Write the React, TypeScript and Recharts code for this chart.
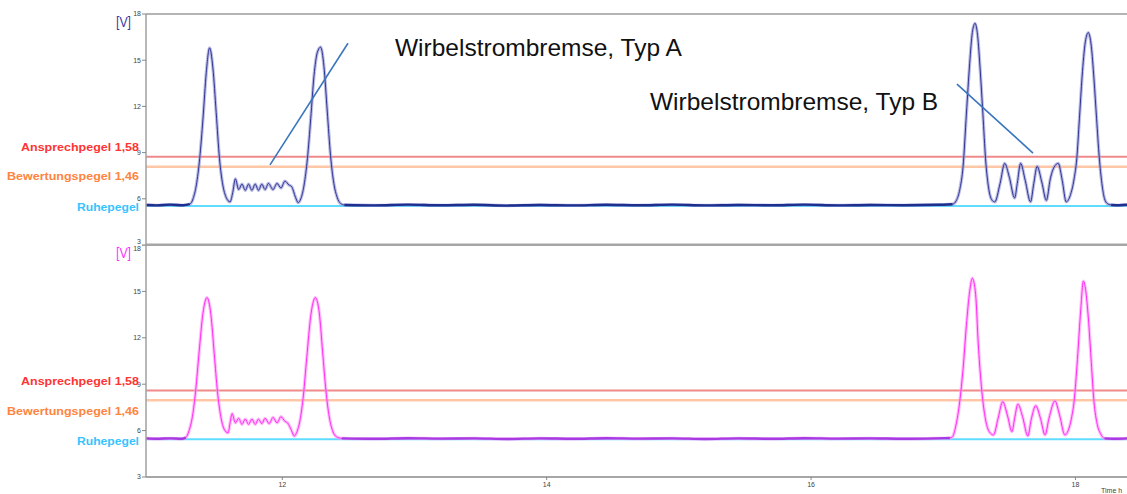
import React from 'react'
import { LineChart, Line, XAxis, YAxis, ReferenceLine } from 'recharts'

// signal of the upper sensor (time in h, voltage in V)
const upperTrace = [
  { t: 10.97, v: 5.6 }, { t: 11.05, v: 5.57 }, { t: 11.15, v: 5.62 }, { t: 11.25, v: 5.58 }, { t: 11.3, v: 5.65 },
  { t: 11.325, v: 6.0 }, { t: 11.35, v: 6.9 }, { t: 11.375, v: 8.6 }, { t: 11.4, v: 11.2 }, { t: 11.425, v: 14.2 },
  { t: 11.45, v: 15.8 }, { t: 11.475, v: 14.5 }, { t: 11.5, v: 11.6 }, { t: 11.525, v: 8.6 }, { t: 11.55, v: 6.9 },
  { t: 11.575, v: 6.1 }, { t: 11.605, v: 5.8 },
  { t: 11.625, v: 6.4 }, { t: 11.645, v: 7.3 }, { t: 11.67, v: 6.6 }, { t: 11.695, v: 6.95 }, { t: 11.72, v: 6.55 },
  { t: 11.745, v: 6.95 }, { t: 11.77, v: 6.55 }, { t: 11.795, v: 6.95 }, { t: 11.82, v: 6.55 }, { t: 11.845, v: 6.95 },
  { t: 11.87, v: 6.6 }, { t: 11.895, v: 7.0 }, { t: 11.93, v: 6.6 }, { t: 11.96, v: 7.0 }, { t: 11.99, v: 6.7 },
  { t: 12.02, v: 7.15 }, { t: 12.05, v: 6.9 }, { t: 12.07, v: 6.8 }, { t: 12.1, v: 6.1 }, { t: 12.12, v: 5.75 },
  { t: 12.14, v: 6.0 }, { t: 12.165, v: 6.9 }, { t: 12.19, v: 8.6 }, { t: 12.215, v: 11.2 }, { t: 12.24, v: 14.0 },
  { t: 12.265, v: 15.5 }, { t: 12.29, v: 15.85 }, { t: 12.315, v: 14.6 }, { t: 12.34, v: 11.7 }, { t: 12.365, v: 8.8 },
  { t: 12.39, v: 7.0 }, { t: 12.415, v: 6.1 }, { t: 12.44, v: 5.7 }, { t: 12.47, v: 5.6 },
  { t: 12.7, v: 5.57 }, { t: 12.95, v: 5.62 }, { t: 13.2, v: 5.58 }, { t: 13.45, v: 5.61 }, { t: 13.7, v: 5.56 },
  { t: 13.95, v: 5.6 }, { t: 14.2, v: 5.57 }, { t: 14.45, v: 5.61 }, { t: 14.7, v: 5.58 }, { t: 14.95, v: 5.62 },
  { t: 15.2, v: 5.57 }, { t: 15.45, v: 5.6 }, { t: 15.7, v: 5.58 }, { t: 15.95, v: 5.62 }, { t: 16.2, v: 5.57 },
  { t: 16.45, v: 5.6 }, { t: 16.7, v: 5.58 }, { t: 16.95, v: 5.61 }, { t: 17.07, v: 5.65 },
  { t: 17.1, v: 5.9 }, { t: 17.125, v: 6.6 }, { t: 17.15, v: 8.1 }, { t: 17.175, v: 11.5 }, { t: 17.2, v: 14.8 },
  { t: 17.22, v: 16.8 }, { t: 17.24, v: 17.4 }, { t: 17.26, v: 16.6 }, { t: 17.28, v: 14.3 }, { t: 17.3, v: 11.5 },
  { t: 17.32, v: 8.6 }, { t: 17.345, v: 6.6 }, { t: 17.37, v: 5.9 }, { t: 17.39, v: 5.8 },
  { t: 17.43, v: 7.0 }, { t: 17.465, v: 8.3 }, { t: 17.5, v: 7.4 }, { t: 17.54, v: 6.05 }, { t: 17.56, v: 7.0 },
  { t: 17.585, v: 8.3 }, { t: 17.62, v: 7.2 }, { t: 17.66, v: 5.8 }, { t: 17.685, v: 7.0 }, { t: 17.71, v: 8.1 },
  { t: 17.745, v: 7.1 }, { t: 17.78, v: 5.9 }, { t: 17.81, v: 7.3 }, { t: 17.83, v: 7.9 }, { t: 17.87, v: 8.3 },
  { t: 17.9, v: 7.2 }, { t: 17.93, v: 5.8 },
  { t: 17.96, v: 6.2 }, { t: 17.99, v: 7.3 }, { t: 18.01, v: 8.6 }, { t: 18.03, v: 11.2 }, { t: 18.05, v: 13.9 },
  { t: 18.075, v: 16.2 }, { t: 18.097, v: 16.8 }, { t: 18.12, v: 15.9 }, { t: 18.14, v: 13.8 }, { t: 18.16, v: 11.2 },
  { t: 18.18, v: 8.7 }, { t: 18.2, v: 7.0 }, { t: 18.22, v: 6.0 }, { t: 18.24, v: 5.7 }, { t: 18.27, v: 5.6 },
  { t: 18.33, v: 5.58 }, { t: 18.39, v: 5.61 },
]

// signal of the lower sensor
const lowerTrace = [
  { t: 10.97, v: 5.5 }, { t: 11.05, v: 5.47 }, { t: 11.15, v: 5.5 }, { t: 11.24, v: 5.47 }, { t: 11.27, v: 5.55 },
  { t: 11.295, v: 6.0 }, { t: 11.32, v: 6.9 }, { t: 11.345, v: 8.6 }, { t: 11.37, v: 11.0 }, { t: 11.4, v: 13.6 },
  { t: 11.43, v: 14.6 }, { t: 11.46, v: 13.5 }, { t: 11.485, v: 11.0 }, { t: 11.51, v: 8.5 }, { t: 11.535, v: 6.9 },
  { t: 11.56, v: 6.1 }, { t: 11.59, v: 5.85 },
  { t: 11.605, v: 6.5 }, { t: 11.62, v: 7.1 }, { t: 11.645, v: 6.5 }, { t: 11.67, v: 6.8 }, { t: 11.695, v: 6.4 },
  { t: 11.72, v: 6.75 }, { t: 11.745, v: 6.4 }, { t: 11.77, v: 6.75 }, { t: 11.795, v: 6.4 }, { t: 11.82, v: 6.75 },
  { t: 11.845, v: 6.45 }, { t: 11.87, v: 6.8 }, { t: 11.9, v: 6.45 }, { t: 11.93, v: 6.85 }, { t: 11.96, v: 6.5 },
  { t: 11.99, v: 6.9 }, { t: 12.02, v: 6.6 }, { t: 12.04, v: 6.5 }, { t: 12.07, v: 6.0 }, { t: 12.09, v: 5.65 },
  { t: 12.11, v: 5.9 }, { t: 12.135, v: 6.7 }, { t: 12.16, v: 8.3 }, { t: 12.185, v: 10.7 }, { t: 12.215, v: 13.4 },
  { t: 12.25, v: 14.6 }, { t: 12.28, v: 13.6 }, { t: 12.305, v: 11.1 }, { t: 12.33, v: 8.6 }, { t: 12.355, v: 6.9 },
  { t: 12.38, v: 6.0 }, { t: 12.41, v: 5.6 }, { t: 12.45, v: 5.5 },
  { t: 12.7, v: 5.47 }, { t: 12.95, v: 5.51 }, { t: 13.2, v: 5.48 }, { t: 13.45, v: 5.5 }, { t: 13.7, v: 5.46 },
  { t: 13.95, v: 5.5 }, { t: 14.2, v: 5.47 }, { t: 14.45, v: 5.51 }, { t: 14.7, v: 5.48 }, { t: 14.95, v: 5.5 },
  { t: 15.2, v: 5.46 }, { t: 15.45, v: 5.5 }, { t: 15.7, v: 5.47 }, { t: 15.95, v: 5.51 }, { t: 16.2, v: 5.48 },
  { t: 16.45, v: 5.5 }, { t: 16.7, v: 5.47 }, { t: 16.95, v: 5.5 }, { t: 17.05, v: 5.52 },
  { t: 17.07, v: 5.6 }, { t: 17.095, v: 6.3 }, { t: 17.125, v: 7.9 }, { t: 17.15, v: 10.0 }, { t: 17.175, v: 12.8 },
  { t: 17.2, v: 15.0 }, { t: 17.22, v: 15.85 }, { t: 17.245, v: 14.8 }, { t: 17.265, v: 11.6 }, { t: 17.285, v: 9.2 },
  { t: 17.3, v: 7.9 }, { t: 17.325, v: 6.5 }, { t: 17.35, v: 5.9 }, { t: 17.38, v: 5.72 },
  { t: 17.415, v: 6.8 }, { t: 17.45, v: 7.87 }, { t: 17.485, v: 7.0 }, { t: 17.52, v: 5.93 }, { t: 17.54, v: 6.8 },
  { t: 17.565, v: 7.72 }, { t: 17.6, v: 6.9 }, { t: 17.64, v: 5.65 }, { t: 17.665, v: 6.7 }, { t: 17.7, v: 7.61 },
  { t: 17.735, v: 6.8 }, { t: 17.77, v: 5.72 }, { t: 17.8, v: 6.8 }, { t: 17.845, v: 7.92 }, { t: 17.88, v: 7.0 },
  { t: 17.92, v: 5.72 },
  { t: 17.945, v: 6.0 }, { t: 17.97, v: 6.8 }, { t: 17.99, v: 7.9 }, { t: 18.015, v: 10.6 }, { t: 18.04, v: 13.8 },
  { t: 18.06, v: 15.67 }, { t: 18.08, v: 14.9 }, { t: 18.1, v: 13.0 }, { t: 18.12, v: 10.4 }, { t: 18.14, v: 7.9 },
  { t: 18.165, v: 6.4 }, { t: 18.19, v: 5.8 }, { t: 18.22, v: 5.5 }, { t: 18.3, v: 5.47 }, { t: 18.39, v: 5.5 },
]

// threshold levels [V]: Ansprechpegel, Bewertungspegel, Ruhepegel
const upperLevels = [8.73, 8.08, 5.53]
const lowerLevels = [8.59, 7.97, 5.44]
const levelNames = ['Ansprechpegel 1,58', 'Bewertungspegel 1,46', 'Ruhepegel']

const yTicks = [3, 6, 9, 12, 15, 18]
const xTicks = [12, 14, 16, 18]
const timeDomain = [10.969, 18.39]

// pointer lines of the two annotations (time, voltage)
const pointerA = [{ x: 12.497, y: 16.1 }, { x: 11.907, y: 8.2 }]
const pointerB = [{ x: 17.104, y: 13.45 }, { x: 17.679, y: 8.97 }]

const FONT = '"Liberation Sans", Arial, sans-serif'
const levelColors = ['#f08a8a', '#ffc7a6', '#5fdcff']
const levelText = ['#ff3434', '#ff8440', '#35c4ff']

const flat = (trace: { t: number; v: number }[], a: number, b: number) => trace.filter(p => p.t >= a && p.t <= b)

// the "3" of the upper panel and the "18" of the lower one sit on either side of the divider
function YTick(props: any) {
  const { x, y, payload, bottom } = props
  let shift = 0
  if (!bottom && payload.value === 3) shift = -3
  if (bottom && payload.value === 18) shift = 4
  return (
    <text x={x} y={y + shift} dy="0.355em" textAnchor="end" fontSize={7} fill="#444" fontFamily={FONT}>
      {payload.value}
    </text>
  )
}

function Panel({ trace, levels, core, halo, base, bottom }: {
  trace: { t: number; v: number }[]
  levels: number[]
  core: string
  halo: string
  base: string
  bottom: boolean
}) {
  const segs = bottom
    ? [flat(trace, 10.9, 11.28), flat(trace, 12.44, 17.06), flat(trace, 18.21, 18.4)]
    : [flat(trace, 10.9, 11.31), flat(trace, 12.46, 17.08), flat(trace, 18.25, 18.4)]
  return (
    <LineChart width={1127} height={bottom ? 249 : 246} margin={{ top: bottom ? 0 : 14, right: 0, bottom: 0, left: 0 }}>
      <XAxis
        type="number"
        dataKey="t"
        domain={timeDomain}
        allowDataOverflow
        ticks={bottom ? xTicks : []}
        height={bottom ? 17 : 1}
        tick={bottom ? { fontSize: 7, fill: '#444', fontFamily: FONT } : false}
        tickSize={3}
        tickLine={{ stroke: '#888' }}
        axisLine={{ stroke: '#a6a6a6', strokeWidth: bottom ? 2 : 3 }}
        interval={0}
      />
      <YAxis
        type="number"
        domain={[3, 18]}
        ticks={yTicks}
        interval={0}
        width={146}
        tickSize={4}
        tickMargin={1}
        tick={(p: any) => <YTick {...p} bottom={bottom} />}
        tickLine={{ stroke: '#888' }}
        axisLine={{ stroke: '#a0a0a0', strokeWidth: 1.5 }}
        allowDataOverflow
      />
      {!bottom && <ReferenceLine y={18} stroke="#b4b4b4" strokeWidth={2} />}
      {levels.map((l, i) => (
        <ReferenceLine key={i} y={l} stroke={levelColors[i]} strokeWidth={i === 1 ? 2.5 : 2} />
      ))}
      <Line data={trace} dataKey="v" type="monotone" dot={false} stroke={halo} strokeWidth={3.2} strokeOpacity={0.7} isAnimationActive={false} />
      <Line data={trace} dataKey="v" type="monotone" dot={false} stroke={core} strokeWidth={1} isAnimationActive={false} />
      {segs.map((s, i) => (
        <Line key={i} data={s} dataKey="v" type="monotone" dot={false} stroke={base} strokeWidth={2.4} isAnimationActive={false} />
      ))}
      {!bottom && <ReferenceLine segment={pointerA} stroke="#3b76bd" strokeWidth={1.6} ifOverflow="visible" />}
      {!bottom && <ReferenceLine segment={pointerB} stroke="#3b76bd" strokeWidth={1.6} ifOverflow="visible" />}
    </LineChart>
  )
}

export default function App() {
  const upperBase = [150.7, 180, 210.6]
  const lowerBase = [385, 415, 444.7]
  const widths = [118, 132, 62]
  return (
    <div style={{ position: 'absolute', left: 0, top: 0, width: 1127, height: 494, background: '#fff', overflow: 'hidden', fontFamily: FONT }}>
      <div style={{ position: 'absolute', left: 0, top: 0 }}>
        <Panel trace={upperTrace} levels={upperLevels} core="#2e3592" halo="#9c9ed8" base="#1f2f8e" bottom={false} />
      </div>
      <div style={{ position: 'absolute', left: 0, top: 245 }}>
        <Panel trace={lowerTrace} levels={lowerLevels} core="#ff2ef5" halo="#ff9cf8" base="#a63be2" bottom />
      </div>
      <svg width={1127} height={494} style={{ position: 'absolute', left: 0, top: 0, pointerEvents: 'none' }}>
        {levelNames.map((n, i) => (
          <text key={'u' + i} x={139} y={upperBase[i]} textAnchor="end" fontSize={11.5} fontWeight="bold" fill={levelText[i]} fontFamily={FONT} textLength={widths[i]} lengthAdjust="spacingAndGlyphs">{n}</text>
        ))}
        {levelNames.map((n, i) => (
          <text key={'l' + i} x={139} y={lowerBase[i]} textAnchor="end" fontSize={11.5} fontWeight="bold" fill={levelText[i]} fontFamily={FONT} textLength={widths[i]} lengthAdjust="spacingAndGlyphs">{n}</text>
        ))}
        <text x={116} y={26.5} fontSize={15} fill="#3b3ba6" fontFamily={FONT} textLength={15} lengthAdjust="spacingAndGlyphs">[V]</text>
        <text x={116} y={258} fontSize={15} fill="#ff33ff" fontFamily={FONT} textLength={15} lengthAdjust="spacingAndGlyphs">[V]</text>
        <text x={395} y={56} fontSize={24.5} fill="#111" fontFamily={FONT}>Wirbelstrombremse, Typ A</text>
        <text x={650} y={110} fontSize={24.5} fill="#111" fontFamily={FONT}>Wirbelstrombremse, Typ B</text>
        <text x={1101} y={493} fontSize={7} fill="#444" fontFamily={FONT}>Time h</text>
      </svg>
    </div>
  )
}
